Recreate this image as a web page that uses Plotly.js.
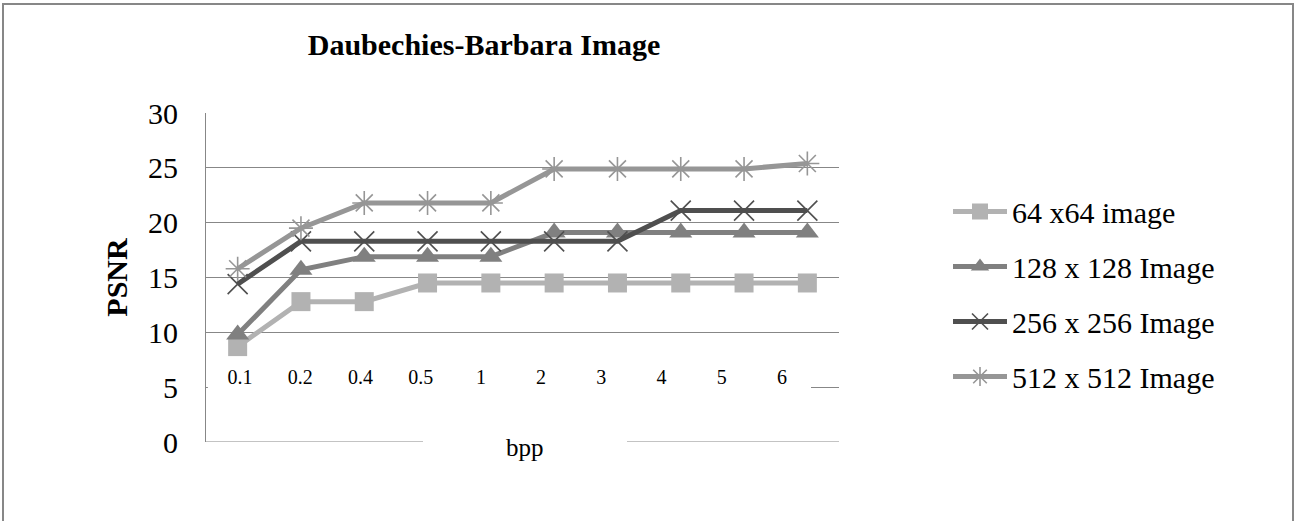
<!DOCTYPE html>
<html>
<head>
<meta charset="utf-8">
<script src="https://cdn.plot.ly/plotly-3.0.1.min.js"></script>
<style>
  html, body { margin: 0; padding: 0; background: #ffffff; }
  #frame { position: absolute; left: 2px; top: 3px; width: 1292px; height: 540px; border: 2px solid #878787; box-sizing: border-box; pointer-events: none; z-index: 5; }
  #chart { position: absolute; left: 0; top: 0; width: 1298px; height: 521px; }
</style>
</head>
<body>
<div id="chart"></div>
<div id="frame"></div>
<script>
// ---- data ----
const categories = ["0.1", "0.2", "0.4", "0.5", "1", "2", "3", "4", "5", "6"];
const seriesNames = ["64 x64 image", "128 x 128 Image", "256 x 256 Image", "512 x 512 Image"];
const psnr64  = [8.7, 12.8, 12.8, 14.5, 14.5, 14.5, 14.5, 14.5, 14.5, 14.5];
const psnr128 = [9.8, 15.7, 16.9, 16.9, 16.9, 19.1, 19.1, 19.1, 19.1, 19.1];
const psnr256 = [14.4, 18.3, 18.3, 18.3, 18.3, 18.3, 18.3, 21.1, 21.1, 21.1];
const psnr512 = [15.8, 19.5, 21.8, 21.8, 21.8, 24.9, 24.9, 24.9, 24.9, 25.4];
const yTicks = [0, 5, 10, 15, 20, 25, 30];

// ---- styling ----
const W = 1298, H = 521;
const L = 206, R = 839, T = 113, B = 442;
const serif = '"Liberation Serif", "Times New Roman", Times, serif';
const px2x = p => (p - L) / (R - L);
const px2y = p => (B - p) / (B - T);
const gridColor = '#878787';

const styles = [
  {color: '#b2b2b2', symbol: 'square', size: 19, mline: '#b2b2b2', mw: 0},
  {color: '#808080', symbol: 'triangle-up', size: 20, mline: '#808080', mw: 0},
  {color: '#4f4f4f', symbol: 'x-thin-open', size: 20, mline: '#3f3f3f', mw: 1.6},
  {color: '#969696', symbol: 'asterisk-open', size: 20, mline: '#8a8a8a', mw: 1.6}
];
const allSeries = [psnr64, psnr128, psnr256, psnr512];

const traces = allSeries.map((vals, i) => ({
  type: 'scatter',
  mode: 'lines+markers',
  name: seriesNames[i],
  legendgroup: 'g' + i,
  x: categories,
  y: vals,
  xaxis: 'x', yaxis: 'y',
  line: {color: styles[i].color, width: 5},
  marker: {symbol: styles[i].symbol, size: styles[i].size, color: styles[i].color,
           line: {color: styles[i].mline, width: styles[i].mw}},
  hoverinfo: 'x+y+name'
}));

// invisible trace that carries the separate category label axis
traces.push({
  type: 'scatter', mode: 'none', x: categories, y: psnr64,
  xaxis: 'x2', yaxis: 'y2', showlegend: false, hoverinfo: 'skip'
});

const layout = {
  width: W, height: H,
  paper_bgcolor: '#ffffff', plot_bgcolor: 'rgba(0,0,0,0)',
  margin: {l: L, r: W - R, t: T, b: H - B, pad: 0},
  showlegend: true,
  font: {family: serif, color: '#000000'},
  title: {
    text: 'Daubechies-Barbara Image',
    font: {family: serif, size: 30, weight: 'bold', color: '#000000'},
    xref: 'container', yref: 'container',
    x: 484 / W, xanchor: 'center',
    y: 1 - 44 / H, yanchor: 'middle'
  },
  xaxis: {
    type: 'category', categoryarray: categories, categoryorder: 'array',
    range: [-0.5, categories.length - 0.5],
    showgrid: false, zeroline: false, showline: false, showticklabels: false, ticks: ''
  },
  xaxis2: {
    type: 'category', categoryarray: categories, categoryorder: 'array',
    range: [-0.5, categories.length - 0.5],
    domain: [px2x(210), px2x(812)],
    anchor: 'free', position: px2y(390), side: 'top',
    showgrid: false, zeroline: false, showline: false, ticks: '',
    tickfont: {family: serif, size: 20, color: '#000000'},
    ticklabelstandoff: 2
  },
  yaxis2: {
    anchor: 'x2', visible: false, range: [0, 30],
    showgrid: false, zeroline: false
  },
  yaxis: {
    range: [0, 30], tickvals: yTicks, ticktext: yTicks.map(String),
    showgrid: true, gridcolor: gridColor, gridwidth: 1,
    zeroline: false, showline: true, linecolor: gridColor, linewidth: 1,
    ticks: '', ticklabelstandoff: 21,
    tickfont: {family: serif, size: 30, color: '#000000'},
    title: {text: 'PSNR', font: {family: serif, size: 30, weight: 'bold', color: '#000000'}, standoff: 11}
  },
  legend: {
    x: px2x(948), xanchor: 'left',
    y: px2y(294), yanchor: 'middle',
    bgcolor: 'rgba(0,0,0,0)', borderwidth: 0,
    font: {family: serif, size: 30, color: '#000000'},
    itemwidth: 54, tracegroupgap: 13, traceorder: 'grouped'
  },
  shapes: [
    // mask the 5 gridline behind the category labels
    {type: 'line', xref: 'paper', yref: 'y', x0: 0.003, x1: px2x(811), y0: yTicks[1], y1: yTicks[1],
     line: {color: '#ffffff', width: 3}, layer: 'above'},
    // baseline (0 gridline), interrupted by the axis title box
    {type: 'line', xref: 'paper', yref: 'y', x0: 0, x1: px2x(423), y0: yTicks[0], y1: yTicks[0],
     line: {color: gridColor, width: 1}, layer: 'below'},
    {type: 'line', xref: 'paper', yref: 'y', x0: px2x(627), x1: 1, y0: yTicks[0], y1: yTicks[0],
     line: {color: gridColor, width: 1}, layer: 'below'}
  ],
  annotations: [
    {text: 'bpp', xref: 'paper', yref: 'paper', x: px2x(525), y: px2y(447),
     xanchor: 'center', yanchor: 'middle', showarrow: false,
     font: {family: serif, size: 25, color: '#000000'}}
  ]
};

Plotly.newPlot('chart', traces, layout, {displayModeBar: false, staticPlot: true});
</script>
</body>
</html>
